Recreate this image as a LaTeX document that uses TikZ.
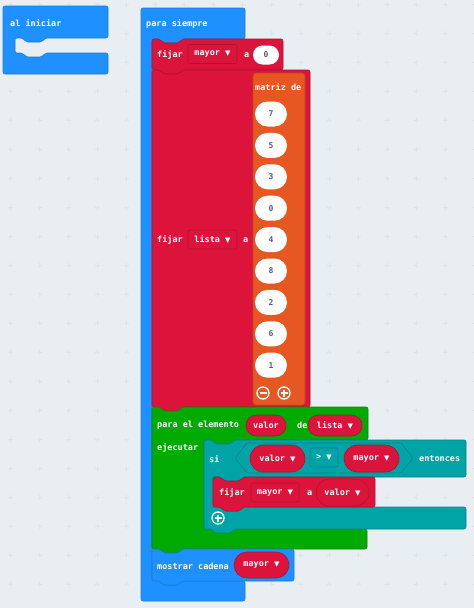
\documentclass[tikz,border=0pt]{standalone}
\usepackage{fontspec}
\usetikzlibrary{shapes.misc}
\newfontfamily\blkfont{DejaVu Sans Mono}
\newfontfamily\symfont{DejaVu Sans}
\definecolor{bgc}{HTML}{E9EEF2}
\definecolor{gridc}{HTML}{DEE3E7}
\definecolor{basec}{HTML}{1E90FF}
\definecolor{based}{HTML}{1A7AD9}
\definecolor{varc}{HTML}{DC143C}
\definecolor{vard}{HTML}{B01030}
\definecolor{arrc}{HTML}{E65722}
\definecolor{arrd}{HTML}{BF471B}
\definecolor{loopc}{HTML}{00AA00}
\definecolor{loopd}{HTML}{008C00}
\definecolor{logc}{HTML}{00A4A6}
\definecolor{logd}{HTML}{008587}
\definecolor{numc}{HTML}{575E75}
\newcommand\dd{{\symfont\fontsize{7}{7}\selectfont ▼}}
% statement block: style, x1, y1, x2, y2
\newcommand\stmtblock[5]{%
  \filldraw[#1] (#2,#3) -- (#2+8,#3) -- (#2+11,#3+4) -- (#2+27,#3+4) -- (#2+30,#3) -- (#4,#3)
    -- (#4,#5) -- (#2+30,#5) -- (#2+27,#5+4) -- (#2+11,#5+4) -- (#2+8,#5) -- (#2,#5) -- cycle;}
\tikzset{
  blk/.style={fill=#1c, draw=#1d, line width=0.6pt, rounded corners=2pt},
  lbl/.style={text=white, font=\blkfont\bfseries\fontsize{8.5}{10}\selectfont, anchor=west, inner sep=0pt},
  pill/.style={rounded rectangle, fill=#1c, draw=#1d, line width=0.6pt, text=white,
    font=\blkfont\bfseries\fontsize{8.5}{10}\selectfont, inner sep=0pt},
  ddbox/.style={rectangle, rounded corners=2pt, draw=#1d, line width=0.6pt, text=white,
    font=\blkfont\bfseries\fontsize{8.5}{10}\selectfont, inner sep=0pt, minimum height=19pt},
  numpill/.style={rounded rectangle, fill=white, text=numc, font=\blkfont\bfseries\fontsize{8}{9}\selectfont,
    minimum width=32pt, minimum height=25pt, inner sep=0pt},
  icon/.style={circle, draw=white, line width=1.3pt, minimum size=12pt, inner sep=0pt},
}
\begin{document}
\begin{tikzpicture}[x=1pt,y=-1pt]
\useasboundingbox (0,0) rectangle (474,608);
\fill[bgc] (0,0) rectangle (474,608);
\foreach \i in {0,...,16}
  \foreach \j in {0,...,20}
    \draw[gridc, line width=0.6pt] (10+29*\i-2.5,4+29*\j) -- ++(5,0) (10+29*\i,4+29*\j-2.5) -- ++(0,5);

% al iniciar
\filldraw[blk=base] (3,6) -- (108,6) -- (108,38) -- (45,38) -- (42,42) -- (26,42) -- (23,38) -- (15,38)
  -- (15,53) -- (23,53) -- (26,57) -- (42,57) -- (45,53) -- (108,53) -- (108,74) -- (3,74) -- cycle;
\node[lbl] (iniciar) at (10,23) {al iniciar};

% para siempre
\filldraw[blk=base] (141,8) -- (245,8) -- (245,39) -- (182,39) -- (179,43) -- (163,43) -- (160,39) -- (152,39)
  -- (152,581) -- (160,581) -- (163,585) -- (179,585) -- (182,581) -- (245,581) -- (245,601) -- (141,601) -- cycle;
\node[lbl] (siempre) at (146,24) {para siempre};

% fijar mayor a 0
\stmtblock{blk=var}{152}{39}{283}{70}
\node[lbl] (fijar1) at (157,55) {fijar};
\node[ddbox=var, minimum width=49pt] (dmayor1) at (212.5,54) {mayor \dd};
\node[lbl] (a1) at (244,55) {a};
\node[numpill, minimum width=26pt, minimum height=19pt] (cero) at (266,55) {0};

% fijar lista a matriz
\stmtblock{blk=var}{152}{70}{310}{407}
\node[lbl] (fijar2) at (157,240) {fijar};
\node[ddbox=var, minimum width=49pt] (dlista) at (212.5,239.5) {lista \dd};
\node[lbl] (a2) at (243,240) {a};
\filldraw[blk=arr, rounded corners=3pt] (253,73) rectangle (305,405);
\node[lbl] (matriz) at (255,87) {matriz de};
\foreach \v [count=\k from 0] in {7,5,3,0,4,8,2,6,1}
  \node[numpill] (n\k) at (271,114+31.4*\k) {\v};
\node[icon] (menos) at (263,393) {};
\node[icon] (mas) at (284,393) {};
\draw[white, line width=1.4pt] ([xshift=-3.5pt]menos.center) -- ([xshift=3.5pt]menos.center)
  ([xshift=-3.5pt]mas.center) -- ([xshift=3.5pt]mas.center) ([yshift=-3.5pt]mas.center) -- ([yshift=3.5pt]mas.center);

% para el elemento
\filldraw[blk=loop] (152,407) -- (160,407) -- (163,411) -- (179,411) -- (182,407) -- (368,407) -- (368,440)
  -- (234,440) -- (231,444) -- (215,444) -- (212,440) -- (204,440) -- (204,529) -- (212,529) -- (215,533)
  -- (231,533) -- (234,529) -- (367,529) -- (367,549) -- (182,549) -- (179,553) -- (163,553) -- (160,549)
  -- (152,549) -- cycle;
\node[lbl] (elemento) at (157,425) {para el elemento};
\node[pill=var, minimum width=40pt, minimum height=21pt] (valor1) at (266,425.5) {valor};
\node[lbl] (de) at (297,425) {de};
\node[pill=var, minimum width=54pt, minimum height=21pt] (lista) at (335,425.5) {lista \dd};
\node[lbl] (ejecutar) at (157,448) {ejecutar};

% si ... entonces
\filldraw[blk=log] (204,440) -- (212,440) -- (215,444) -- (231,444) -- (234,440) -- (466,440) -- (466,477)
  -- (243,477) -- (240,481) -- (224,481) -- (221,477) -- (213,477) -- (213,507) -- (221,507) -- (224,511)
  -- (240,511) -- (243,507) -- (466,507) -- (466,529) -- (234,529) -- (231,533) -- (215,533) -- (212,529)
  -- (204,529) -- cycle;
\node[lbl] (si) at (209,459) {si};
\draw[logd, line width=0.6pt, rounded corners=1pt] (235,458) -- (247,443) -- (401,443) -- (413,458) -- (401,473) -- (247,473) -- cycle;
\node[pill=var, minimum width=55pt, minimum height=27pt] (valor2) at (277.5,458.5) {valor \dd};
\node[ddbox=log, minimum width=28pt] (mayorque) at (324,457.5) {> \dd};
\node[pill=var, minimum width=55pt, minimum height=27pt] (mayor2) at (371.5,458.5) {mayor \dd};
\node[lbl] (entonces) at (419,459) {entonces};

% fijar mayor a valor
\stmtblock{blk=var}{213}{477}{375}{507}
\node[lbl] (fijar3) at (219,493) {fijar};
\node[ddbox=var, minimum width=48pt] (dmayor3) at (275,492.5) {mayor \dd};
\node[lbl] (a3) at (307,493) {a};
\node[pill=var, minimum width=53pt, minimum height=27pt] (valor3) at (342.5,492.5) {valor \dd};
\node[icon] (mas2) at (218,518) {};
\draw[white, line width=1.4pt] ([xshift=-3.5pt]mas2.center) -- ([xshift=3.5pt]mas2.center)
  ([yshift=-3.5pt]mas2.center) -- ([yshift=3.5pt]mas2.center);

% mostrar cadena
\stmtblock{blk=base}{152}{549}{294}{581}
\node[lbl] (mostrar) at (157,566) {mostrar cadena};
\node[pill=var, minimum width=55pt, minimum height=26pt] (mayor4) at (261.5,565) {mayor \dd};
\end{tikzpicture}
\end{document}
